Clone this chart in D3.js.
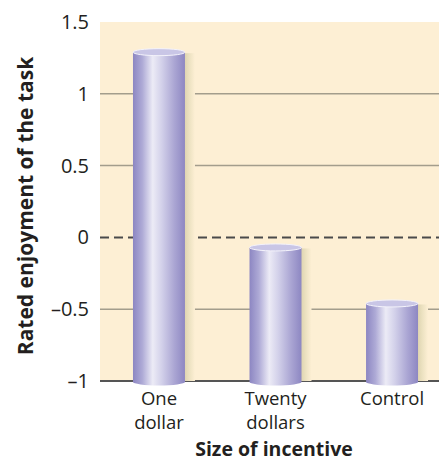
<!DOCTYPE html>
<html>
<head>
<meta charset="utf-8">
<script src="https://cdn.jsdelivr.net/npm/d3@7"></script>
<style>
  body { margin: 0; background: #fff; }
  text { font-family: "Open Sans", "Noto Sans", sans-serif; fill: #231f20; }
</style>
</head>
<body>
<svg id="chart" width="439" height="462"></svg>
<script>
// data
const categories = [["One", "dollar"], ["Twenty", "dollars"], ["Control"]];
const values = [1.29, -0.07, -0.46];
const yTicks = [1.5, 1, 0.5, 0, -0.5, -1];
const gridTicks = [1, 0.5, -0.5];

const svg = d3.select("#chart");
const margin = {left: 100, top: 22, bottom: 81};
const W = 439, H = 462;

const y = d3.scaleLinear().domain([-1, 1.5]).range([H - margin.bottom, margin.top]);
const x = d3.scaleBand().domain(d3.range(values.length))
    .range([margin.left, 451]).paddingInner(0.554).paddingOuter(0.283);

const defs = svg.append("defs");
const bodyGrad = defs.append("linearGradient").attr("id", "barBody");
[[0, "#8c86c2"], [0.18, "#aeaad6"], [0.38, "#ecebf6"], [0.55, "#d3d1ea"], [0.8, "#aaa5d3"], [1, "#8d87c2"]]
    .forEach(([o, c]) => bodyGrad.append("stop").attr("offset", o).attr("stop-color", c));
const shadowGrad = defs.append("linearGradient").attr("id", "barShadow");
[[0, "#d9cfaa"], [0.5, "#ebe1c0"], [1, "#fdefd4"]]
    .forEach(([o, c]) => shadowGrad.append("stop").attr("offset", o).attr("stop-color", c));

// background panel
svg.append("rect")
    .attr("x", margin.left).attr("y", y(1.5))
    .attr("width", W - margin.left).attr("height", y(-1) - y(1.5))
    .attr("fill", "#fdefd4");

// gridlines
svg.selectAll(".grid").data(gridTicks).join("line")
    .attr("class", "grid")
    .attr("x1", margin.left).attr("x2", W)
    .attr("y1", d => y(d)).attr("y2", d => y(d))
    .attr("stroke", "#a39d8c").attr("stroke-width", 1.5);

// zero dashed line
svg.append("line")
    .attr("x1", margin.left).attr("x2", W)
    .attr("y1", y(0)).attr("y2", y(0))
    .attr("stroke", "#4a4a4a").attr("stroke-width", 2)
    .attr("stroke-dasharray", "9,5");

// baseline at -1
svg.append("line")
    .attr("x1", margin.left).attr("x2", W)
    .attr("y1", y(-1)).attr("y2", y(-1))
    .attr("stroke", "#555").attr("stroke-width", 2);

const bw = x.bandwidth();
const ry = 3.5;
const bars = svg.selectAll(".bar").data(values).join("g").attr("class", "bar");

// shadow on the right
bars.append("rect")
    .attr("x", (d, i) => x(i) + bw - 2)
    .attr("y", d => y(d) + 1)
    .attr("width", 12)
    .attr("height", d => y(-1) - y(d) - 1)
    .attr("fill", "url(#barShadow)");

// cylinder body
bars.append("path")
    .attr("d", (d, i) => {
        const x0 = x(i), x1 = x(i) + bw, t = y(d), b = y(-1) + 1;
        return `M${x0},${t} L${x0},${b} A${bw / 2},${ry} 0 0 0 ${x1},${b} L${x1},${t} Z`;
    })
    .attr("fill", "url(#barBody)");

// top face
bars.append("ellipse")
    .attr("cx", (d, i) => x(i) + bw / 2)
    .attr("cy", d => y(d))
    .attr("rx", bw / 2).attr("ry", ry)
    .attr("fill", "#c9c6e6")
    .attr("stroke", "#f4f3fb").attr("stroke-width", 1);

// y tick labels
svg.selectAll(".ytick").data(yTicks).join("text")
    .attr("class", "ytick")
    .attr("x", 89).attr("y", d => y(d))
    .attr("dy", "0.35em")
    .attr("text-anchor", "end")
    .attr("font-size", 20)
    .text(d => d < 0 ? "\u2013" + Math.abs(d) : d);

// category labels, one text per line
const catLines = [];
categories.forEach((lines, i) => lines.forEach((t, j) => catLines.push({i, j, t})));
svg.selectAll(".cat").data(catLines).join("text")
    .attr("class", "cat")
    .attr("x", d => x(d.i) + bw / 2)
    .attr("y", d => 405 + d.j * 24)
    .attr("text-anchor", "middle")
    .attr("font-size", 18.5)
    .text(d => d.t);

// axis titles
svg.append("text")
    .attr("x", 274).attr("y", 456)
    .attr("text-anchor", "middle")
    .attr("font-size", 19.5).attr("font-weight", "bold")
    .text("Size of incentive");

svg.append("text")
    .attr("transform", "translate(33,206) rotate(-90)")
    .attr("text-anchor", "middle")
    .attr("font-size", 21).attr("font-weight", "bold")
    .text("Rated enjoyment of the task");
</script>
</body>
</html>
